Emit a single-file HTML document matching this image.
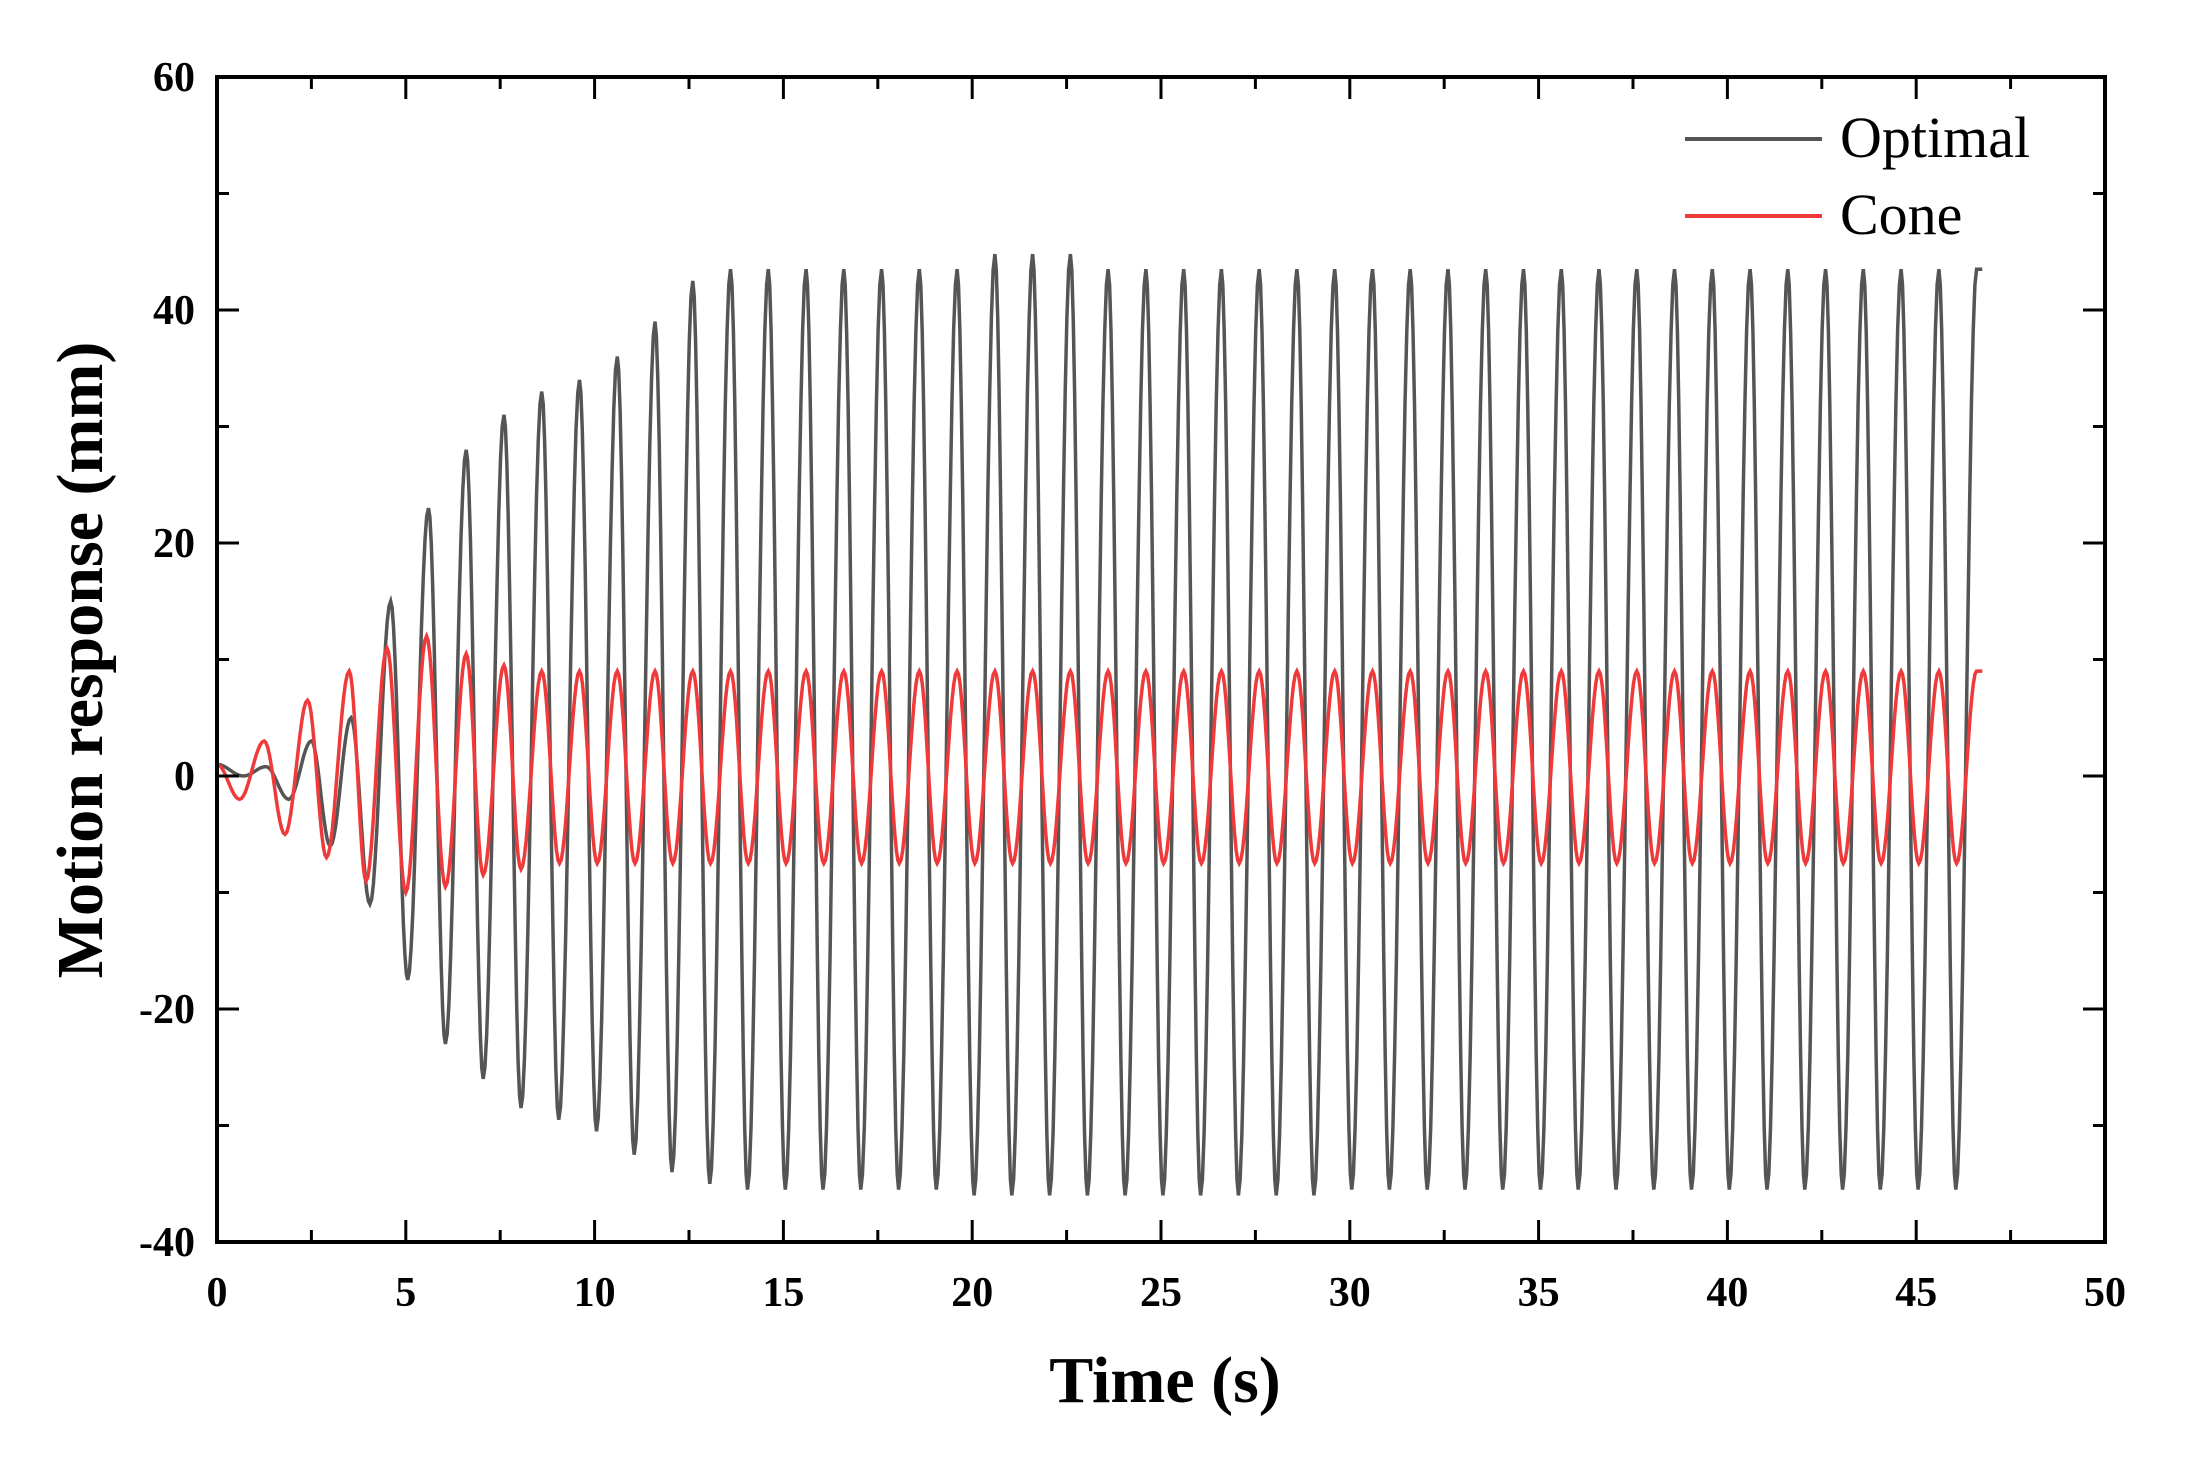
<!DOCTYPE html>
<html><head><meta charset="utf-8"><style>
html,body{margin:0;padding:0;background:#fff;}
svg{display:block;}
text{font-family:"Liberation Serif",serif;}
</style></head><body>
<svg id="s" width="2188" height="1457" viewBox="0 0 2188 1457" xmlns="http://www.w3.org/2000/svg">
<g id="data"></g>
<g id="axes"></g>
<rect x="217" y="77" width="1888" height="1165" fill="none" stroke="#000" stroke-width="4"/>
<g id="xl" font-size="42" font-weight="bold" text-anchor="middle" fill="#000"></g>
<g id="yl" font-size="42" font-weight="bold" text-anchor="end" fill="#000"></g>
<text x="1165" y="1402" font-size="66" font-weight="bold" text-anchor="middle">Time (s)</text>
<text transform="translate(102,660) rotate(-90)" font-size="66" font-weight="bold" text-anchor="middle">Motion response (mm)</text>
<line x1="1685" y1="139" x2="1822" y2="139" stroke="#555" stroke-width="4"/>
<line x1="1685" y1="216" x2="1822" y2="216" stroke="#ee3a3a" stroke-width="4"/>
<text x="1840" y="157" font-size="58">Optimal</text>
<text x="1840" y="234" font-size="58">Cone</text>
</svg>
<script>
var X0=217,X1=2105,YT=77,YB=1242,SX=(X1-X0)/50,SY=(YB-YT)/100,Y0=YT+60*SY;
function px(t){return X0+t*SX;} function py(v){return Y0-v*SY;}
function build(ext){
  var d="",first=true;
  for(var i=0;i<ext.length-1;i++){
    var a=ext[i],b=ext[i+1];
    var n=12;
    for(var j=0;j<=n;j++){
      if(j==0&&!first)continue;
      var f=j/n,t=a[0]+(b[0]-a[0])*f;
      var v=a[1]+(b[1]-a[1])*(1-Math.cos(Math.PI*f))/2;
      d+=(first?"M":"L")+px(t).toFixed(1)+","+py(v).toFixed(1);first=false;
    }
  }
  return d;
}
var blk=[[0,1],[0.7,0],[1.3,0.8],[1.9,-2],[2.5,3],[3.0,-6],[3.55,5],[4.05,-11],[4.6,15],[5.05,-17.5],[5.6,23],[6.05,-23],[6.6,28],[7.05,-26],[7.6,31],[8.05,-28.5],[8.6,33],[9.05,-29.5],[9.6,34],[10.05,-30.5],[10.6,36],[11.05,-32.5],[11.6,39],[12.05,-34],[12.6,42.5],[13.05,-35]];
for(var k=13;k<=46;k++){
  var p=43.5; if(k>=20&&k<=22)p=44.8;
  var tr=-35.5; if(k>=19&&k<=28)tr=-36;
  blk.push([k+0.6,p]);
  if(k+1.05<46.75)blk.push([k+1.05,tr]);
}
blk.push([46.75,43.5]);
var red=[[0,1],[0.6,-2],[1.25,3],[1.8,-5],[2.4,6.5],[2.9,-7],[3.5,9],[3.95,-9],[4.5,11],[5.0,-10],[5.55,12],[6.05,-9.5],[6.6,10.5],[7.05,-8.5],[7.6,9.5],[8.05,-8]];
for(var k=8;k<=46;k++){
  red.push([k+0.6,9]);
  if(k+1.07<46.75)red.push([k+1.07,-7.5]);
}
red.push([46.75,9]);
document.getElementById("data").innerHTML='<path d="'+build(blk)+'" fill="none" stroke="#555" stroke-width="3.5"/>'+
'<path d="'+build(red)+'" fill="none" stroke="#ee3a3a" stroke-width="3.5"/>';
var ax="",xl="",yl="";
for(var i=0;i<=20;i++){var x=X0+i*(X1-X0)/20,L=(i%2==0)?22:12;
 ax+='<line x1="'+x+'" y1="'+YB+'" x2="'+x+'" y2="'+(YB-L)+'" stroke="#000" stroke-width="3"/>';
 ax+='<line x1="'+x+'" y1="'+YT+'" x2="'+x+'" y2="'+(YT+L)+'" stroke="#000" stroke-width="3"/>';
 if(i%2==0)xl+='<text x="'+x+'" y="1306">'+(i*2.5)+'</text>';}
for(var i=0;i<=10;i++){var y=YT+i*(YB-YT)/10,L=(i%2==0)?22:12;
 ax+='<line x1="217" y1="'+y+'" x2="'+(217+L)+'" y2="'+y+'" stroke="#000" stroke-width="3"/>';
 ax+='<line x1="'+X1+'" y1="'+y+'" x2="'+(X1-L)+'" y2="'+y+'" stroke="#000" stroke-width="3"/>';
 if(i%2==0)yl+='<text x="195" y="'+(y+14)+'">'+(60-i*10)+'</text>';}
document.getElementById("axes").innerHTML=ax;
document.getElementById("xl").innerHTML=xl;
document.getElementById("yl").innerHTML=yl;
</script>
</body></html>
